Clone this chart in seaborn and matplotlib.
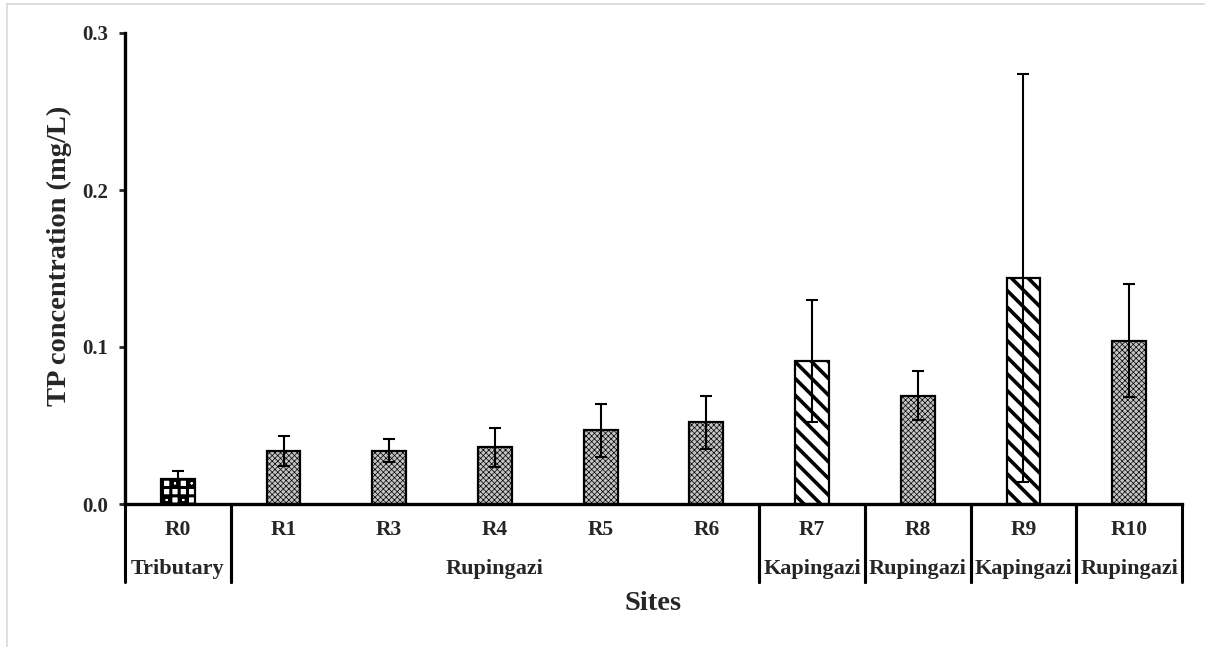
import matplotlib
matplotlib.use("Agg")
import matplotlib.pyplot as plt
import matplotlib.transforms as mtransforms
from matplotlib.lines import Line2D
import seaborn as sns
import pandas as pd

# Total phosphorus per sampling site (mean and standard deviation, mg/L)
sites = ["R0", "R1", "R3", "R4", "R5", "R6", "R7", "R8", "R9", "R10"]
rivers = ["Tributary", "Rupingazi", "Rupingazi", "Rupingazi", "Rupingazi",
          "Rupingazi", "Kapingazi", "Rupingazi", "Kapingazi", "Rupingazi"]
tp_mean = [0.016, 0.034, 0.034, 0.036, 0.047, 0.052, 0.091, 0.069, 0.144, 0.104]
tp_sd = [0.005, 0.0095, 0.0075, 0.0125, 0.017, 0.017, 0.039, 0.0155, 0.130, 0.036]
y_ticks = [0.0, 0.1, 0.2, 0.3]

sns.set_theme(style="white")
plt.rcParams["font.family"] = ["Liberation Serif", "DejaVu Serif"]
plt.rcParams["font.weight"] = "bold"

W, H = 1205, 647
fig = plt.figure(figsize=(W / 100, H / 100), dpi=100)
x0, x1, ytop, ybot = 125, 1182, 33, 504
ax = fig.add_axes([x0 / W, 1 - ybot / H, (x1 - x0) / W, (ybot - ytop) / H])

df = pd.DataFrame({"site": sites, "tp": tp_mean, "river": rivers})
sns.barplot(data=df, x="site", y="tp", order=sites, width=0.32, color="white",
            saturation=1, edgecolor="black", linewidth=1.6, errorbar=None, ax=ax)

# fill patterns by river
styles = {
    "Rupingazi": dict(face="#c4c4c4", hatch="xxxxxx", hlw=0.5),
    "Kapingazi": dict(face="white", hatch="\\\\", hlw=2.6),
    "Tributary": dict(face="white", hatch="++o", hlw=2.2),
}
for patch, river in zip(ax.patches, rivers):
    st = styles[river]
    patch.set_facecolor(st["face"])
    patch.set_hatch(st["hatch"])
    if hasattr(patch, "set_hatch_linewidth"):
        patch.set_hatch_linewidth(st["hlw"])

ax.errorbar(range(len(sites)), tp_mean, yerr=tp_sd, fmt="none", ecolor="black",
            elinewidth=1.5, capsize=4.5, capthick=1.5, zorder=5)

ax.set_xlim(-0.5, len(sites) - 0.5)
ax.set_ylim(0, 0.3)
ax.set_yticks(y_ticks)
ax.set_yticklabels([f"{v:.1f}" for v in y_ticks], fontsize=15, fontweight="bold")
ax.set_xticks([])
ax.tick_params(axis="y", direction="out", length=4, width=2, pad=8, left=True)
for side in ("top", "right"):
    ax.spines[side].set_visible(False)
for side in ("left", "bottom"):
    ax.spines[side].set_linewidth(2.4)
    ax.spines[side].set_color("black")

# two-row category axis: site names and river groups
trans = mtransforms.blended_transform_factory(ax.transData, ax.transAxes)
ph = ybot - ytop
row1 = -(530 - ybot) / ph
row2 = -(569 - ybot) / ph
sep_bottom = -(582 - ybot) / ph
for i, s in enumerate(sites):
    ax.text(i, row1, s, transform=trans, ha="center", va="center",
            fontsize=15.5, fontweight="bold")

groups = []
start = 0
for i in range(1, len(rivers) + 1):
    if i == len(rivers) or rivers[i] != rivers[start]:
        groups.append((start, i - 1, rivers[start]))
        start = i
for a, b, name in groups:
    ax.text((a + b) / 2, row2, name, transform=trans, ha="center", va="center",
            fontsize=16, fontweight="bold")
    for xb in (a - 0.5, b + 0.5):
        ax.add_line(Line2D([xb, xb], [0, sep_bottom], transform=trans,
                           color="black", lw=2.2, clip_on=False))

ax.set_xlabel("Sites", fontsize=20.5, fontweight="bold")
ax.xaxis.set_label_coords(0.5, -(603 - ybot) / ph)
ax.xaxis.label.set_va("center")
ax.set_ylabel("TP concentration (mg/L)", fontsize=20.5, fontweight="bold")
ax.yaxis.set_label_coords((59 - x0) / (x1 - x0), (ybot - 256) / ph)
ax.yaxis.label.set_va("center")

# light frame around the figure
fig.add_artist(Line2D([7 / W, 1.0], [1 - 4 / H, 1 - 4 / H], color="#d9d9d9", lw=1.2))
fig.add_artist(Line2D([7 / W, 7 / W], [0.0, 1 - 4 / H], color="#d9d9d9", lw=1.2))

fig.savefig("out.png", dpi=100, facecolor="white")
